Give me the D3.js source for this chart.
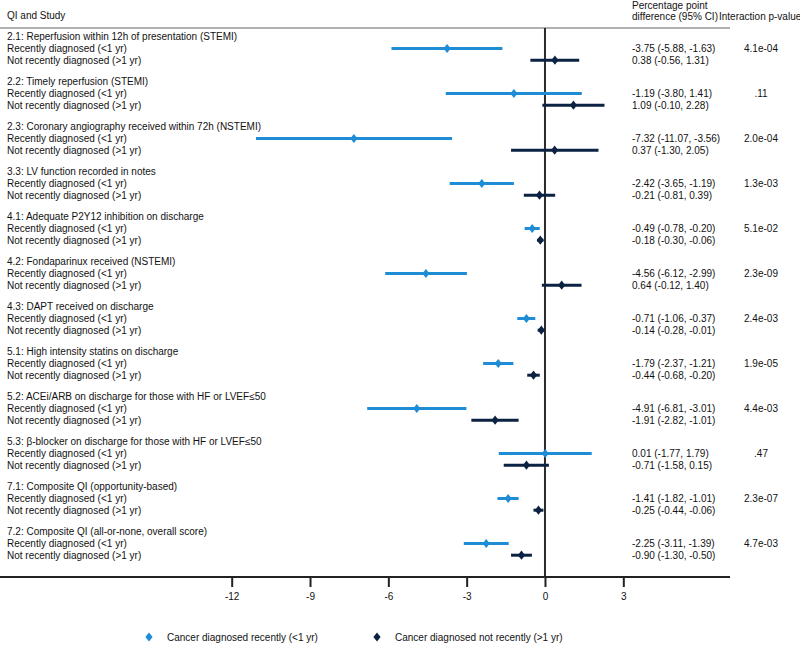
<!DOCTYPE html>
<html>
<head>
<meta charset="utf-8">
<script src="https://cdn.jsdelivr.net/npm/d3@7"></script>
<style>
  html, body { margin: 0; padding: 0; background: #fff; }
  svg { display: block; font-family: "Liberation Sans", Arial, sans-serif; }
</style>
</head>
<body>
<svg id="chart" width="800" height="645"></svg>
<script>
const titles = [
  "2.1: Reperfusion within 12h of presentation (STEMI)",
  "2.2: Timely reperfusion (STEMI)",
  "2.3: Coronary angiography received within 72h (NSTEMI)",
  "3.3: LV function recorded in notes",
  "4.1: Adequate P2Y12 inhibition on discharge",
  "4.2: Fondaparinux received (NSTEMI)",
  "4.3: DAPT received on discharge",
  "5.1: High intensity statins on discharge",
  "5.2: ACEi/ARB on discharge for those with HF or LVEF\u226450",
  "5.3: \u03b2-blocker on discharge for those with HF or LVEF\u226450",
  "7.1: Composite QI (opportunity-based)",
  "7.2: Composite QI (all-or-none, overall score)"
];
const recentEst  = [-3.75, -1.19, -7.32, -2.42, -0.49, -4.56, -0.71, -1.79, -4.91, 0.01, -1.41, -2.25];
const recentLo   = [-5.88, -3.80, -11.07, -3.65, -0.78, -6.12, -1.06, -2.37, -6.81, -1.77, -1.82, -3.11];
const recentHi   = [-1.63, 1.41, -3.56, -1.19, -0.20, -2.99, -0.37, -1.21, -3.01, 1.79, -1.01, -1.39];
const notEst     = [0.38, 1.09, 0.37, -0.21, -0.18, 0.64, -0.14, -0.44, -1.91, -0.71, -0.25, -0.90];
const notLo      = [-0.56, -0.10, -1.30, -0.81, -0.30, -0.12, -0.28, -0.68, -2.82, -1.58, -0.44, -1.30];
const notHi      = [1.31, 2.28, 2.05, 0.39, -0.06, 1.40, -0.01, -0.20, -1.01, 0.15, -0.06, -0.50];
const pValues    = ["4.1e-04", ".11", "2.0e-04", "1.3e-03", "5.1e-02", "2.3e-09", "2.4e-03", "1.9e-05", "4.4e-03", ".47", "2.3e-07", "4.7e-03"];
const subLabels  = ["Recently diagnosed (<1 yr)", "Not recently diagnosed (>1 yr)"];
const seriesNames = ["Cancer diagnosed recently (<1 yr)", "Cancer diagnosed not recently (>1 yr)"];
const tickValues = [-12, -9, -6, -3, 0, 3];

const colors = ["#1f8dd6", "#0c2242"];
const fs = 10;

const svg = d3.select("#chart");
const x = d3.scaleLinear().domain([-12, 3]).range([231.7, 623.3]);
const gy = d3.scaleLinear().domain([0, 11]).range([48.5, 543.5]); // recent row per group
const dRow = 11.7;
const axisY = 577;
const headerY = 28;
const estX = 632, pX = 761, labelX = 7, ruleEnd = 730;

const fmt = v => (v < 0 ? "-" : "") + Math.abs(v).toFixed(2);

// header
const hdr = svg.append("g").attr("font-size", fs).attr("fill", "#111");
hdr.append("text").attr("x", labelX).attr("y", 15).attr("dominant-baseline", "central").text("QI and Study");
hdr.append("text").attr("x", estX).attr("y", 5).attr("dominant-baseline", "central").text("Percentage point");
hdr.append("text").attr("x", estX).attr("y", 16).attr("dominant-baseline", "central").text("difference (95% CI)");
hdr.append("text").attr("x", 719).attr("y", 16).attr("dominant-baseline", "central").text("Interaction p-value");

svg.append("line").attr("x1", 0).attr("x2", ruleEnd).attr("y1", headerY).attr("y2", headerY)
  .attr("stroke", "#b0b0b0").attr("stroke-width", 2);

// zero line
svg.append("line").attr("x1", x(0)).attr("x2", x(0)).attr("y1", headerY).attr("y2", axisY)
  .attr("stroke", "#2a2a2a").attr("stroke-width", 2);

// rows
const rows = titles.map((t, i) => ({
  i, title: t, p: pValues[i],
  series: [
    {s: 0, est: recentEst[i], lo: recentLo[i], hi: recentHi[i]},
    {s: 1, est: notEst[i], lo: notLo[i], hi: notHi[i]}
  ]
}));

const diamond = "M0,-4.6L3.6,0L0,4.6L-3.6,0Z";

const g = svg.selectAll("g.grp").data(rows).join("g").attr("class", "grp")
  .attr("font-size", fs).attr("fill", "#111");

g.append("text").attr("x", labelX).attr("y", d => gy(d.i) - dRow)
  .attr("dominant-baseline", "central").text(d => d.title);
g.selectAll("text.sub").data(d => d.series.map(s => ({...s, i: d.i}))).join("text")
  .attr("class", "sub").attr("x", labelX).attr("y", d => gy(d.i) + d.s * dRow)
  .attr("dominant-baseline", "central").text(d => subLabels[d.s]);
g.selectAll("text.est").data(d => d.series.map(s => ({...s, i: d.i}))).join("text")
  .attr("class", "est").attr("x", estX).attr("y", d => gy(d.i) + d.s * dRow)
  .attr("dominant-baseline", "central")
  .text(d => `${fmt(d.est)} (${fmt(d.lo)}, ${fmt(d.hi)})`);
g.append("text").attr("x", pX).attr("y", d => gy(d.i))
  .attr("text-anchor", "middle").attr("dominant-baseline", "central").text(d => d.p);

const marks = g.selectAll("g.mark").data(d => d.series.map(s => ({...s, i: d.i}))).join("g")
  .attr("class", "mark");
marks.append("line")
  .attr("x1", d => x(d.lo)).attr("x2", d => x(d.hi))
  .attr("y1", d => gy(d.i) + d.s * dRow).attr("y2", d => gy(d.i) + d.s * dRow)
  .attr("stroke", d => colors[d.s]).attr("stroke-width", 3);
marks.append("path").attr("d", diamond)
  .attr("transform", d => `translate(${x(d.est)},${gy(d.i) + d.s * dRow})`)
  .attr("fill", d => colors[d.s]);

// axis
const axis = svg.append("g").attr("transform", `translate(0,${axisY})`)
  .call(d3.axisBottom(x).tickValues(tickValues).tickSize(10).tickPadding(6).tickFormat(d => String(d)));
axis.select(".domain").remove();
axis.selectAll(".tick line").attr("stroke", "#222").attr("stroke-width", 2);
axis.selectAll(".tick text").attr("font-size", fs).attr("fill", "#111")
  .attr("font-family", "\"Liberation Sans\", Arial, sans-serif");
svg.append("line").attr("x1", 0).attr("x2", ruleEnd).attr("y1", axisY).attr("y2", axisY)
  .attr("stroke", "#222").attr("stroke-width", 2);

// legend
const legendX = [149, 377];
const lg = svg.selectAll("g.leg").data(seriesNames).join("g").attr("class", "leg")
  .attr("transform", (d, i) => `translate(${legendX[i]},637)`);
lg.append("path").attr("d", diamond).attr("fill", (d, i) => colors[i]);
lg.append("text").attr("x", 18).attr("y", 0).attr("dominant-baseline", "central")
  .attr("font-size", fs).attr("fill", "#111").text(d => d);
</script>
</body>
</html>
